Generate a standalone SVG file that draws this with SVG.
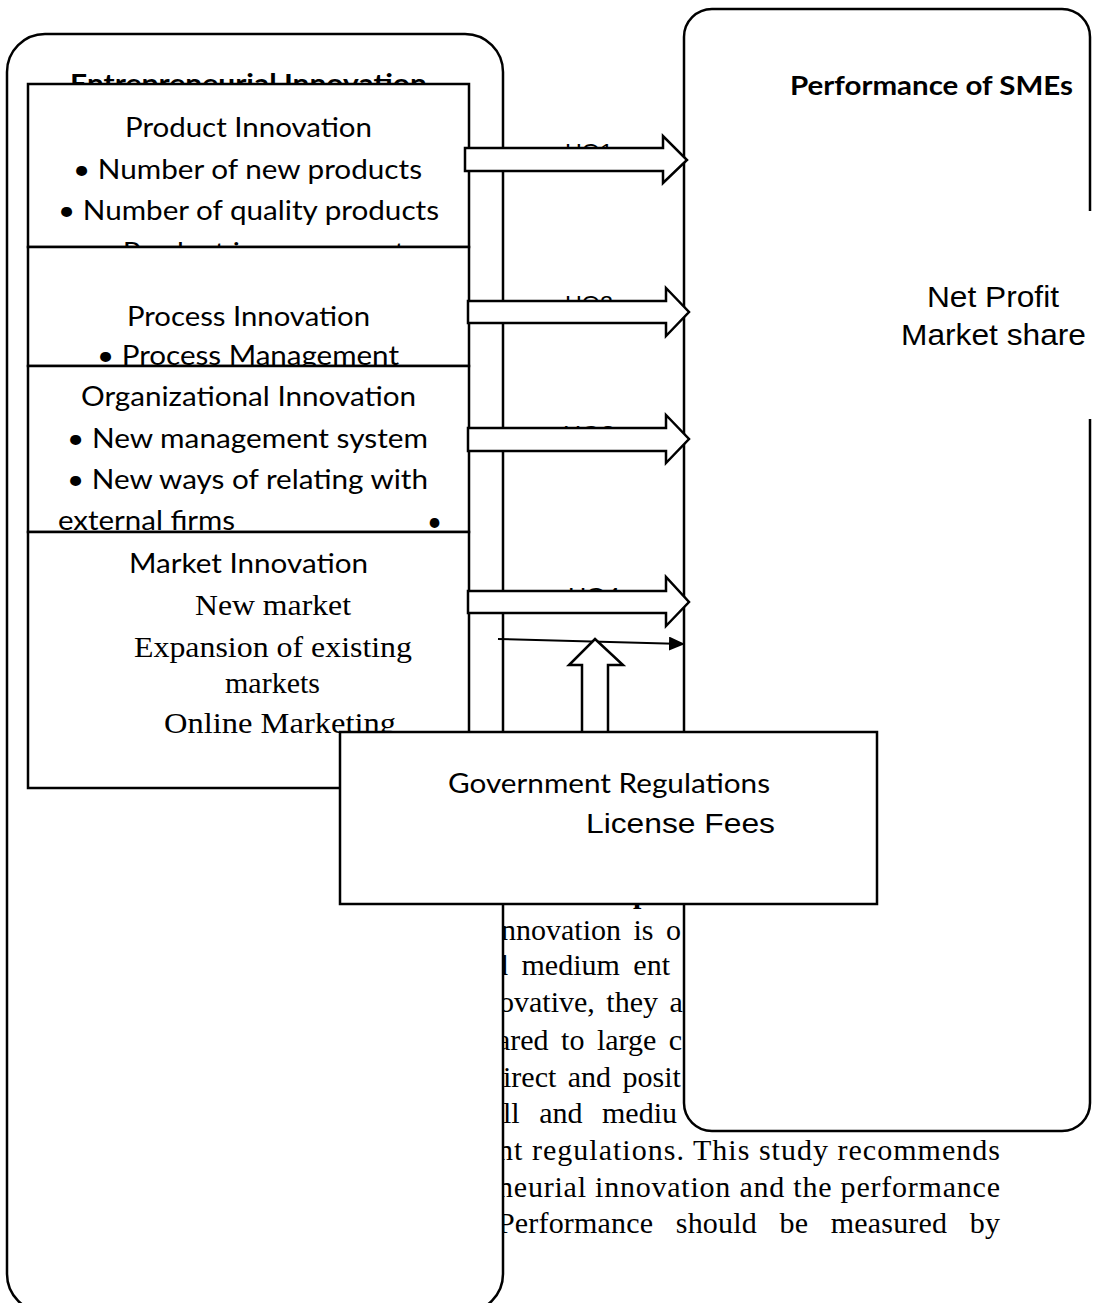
<svg xmlns="http://www.w3.org/2000/svg" width="1096" height="1303" viewBox="0 0 1096 1303">
<defs>
<style>
.box{fill:#fff;stroke:#000;stroke-width:2.5}
.blk{fill:#fff;stroke:#000;stroke-width:2.5;stroke-linejoin:miter}
.cal{font-family:Lato,'Open Sans','Liberation Sans',sans-serif;font-size:26px;fill:#000}
.b{font-weight:bold}
.tnr{font-family:'Liberation Serif','Times New Roman',serif;font-size:30px;fill:#000}
.ari{font-family:'Liberation Sans',Arial,sans-serif;fill:#000}
</style>
<marker id="tri" markerWidth="16" markerHeight="14" refX="15" refY="7" orient="auto" markerUnits="userSpaceOnUse">
<path d="M0,0 L16,7 L0,14 Z" fill="#000"/>
</marker>
</defs>
<rect width="1096" height="1303" fill="#fff"/>

<g id="body-text" class="tnr">
<text x="633" y="903" class="b">p</text>
<text x="501" y="940" word-spacing="5">nnovation is o</text>
<text x="493" y="975" word-spacing="6">d medium ent</text>
<text x="499" y="1012" word-spacing="4">ovative, they a</text>
<text x="497" y="1050" word-spacing="5">ared to large c</text>
<text x="503" y="1087" word-spacing="4">irect and posit</text>
<text x="503" y="1123" word-spacing="12">ll and mediu</text>
<text x="498" y="1160" textLength="502" lengthAdjust="spacing">nt regulations. This study recommends</text>
<text x="498" y="1197" textLength="502" lengthAdjust="spacing">neurial innovation and the performance</text>
<text x="498" y="1233" textLength="502" lengthAdjust="spacing" word-spacing="15">Performance should be measured by</text>
</g>

<g id="entrepreneurial-innovation">
<rect class="box" x="7" y="34" width="496" height="1278" rx="38" ry="38"/>
<text class="cal b" font-size="27" x="70" y="93" textLength="357" lengthAdjust="spacingAndGlyphs">Entrepreneurial Innovation</text>
</g>

<g id="performance-of-smes">
<path class="box" d="M1090,419 L1090,1103 A28,28 0 0 1 1062,1131 L712,1131 A28,28 0 0 1 684,1103 L684,37 A28,28 0 0 1 712,9 L1062,9 A28,28 0 0 1 1090,37 L1090,211"/>
<text class="cal b" font-size="27" x="790" y="95" textLength="283" lengthAdjust="spacingAndGlyphs">Performance of SMEs</text>
<text class="ari" font-size="29" x="927" y="307" textLength="132" lengthAdjust="spacingAndGlyphs">Net Profit</text>
<text class="ari" font-size="29" x="901" y="345" textLength="185" lengthAdjust="spacingAndGlyphs">Market share</text>
</g>

<g id="hypothesis-labels" class="ari" font-size="22">
<text x="565" y="159" textLength="48" lengthAdjust="spacingAndGlyphs">HO1</text>
<text x="565" y="311" textLength="48" lengthAdjust="spacingAndGlyphs">HO2</text>
<text x="563" y="441" textLength="52" lengthAdjust="spacingAndGlyphs">HO3</text>
<text x="568" y="603" textLength="52" lengthAdjust="spacingAndGlyphs">HO4</text>
</g>

<g id="product-innovation">
<rect class="box" x="28" y="84" width="441" height="163"/>
<text class="cal" x="125" y="137" textLength="247" lengthAdjust="spacingAndGlyphs">Product Innovation</text>
<text class="cal" x="73" y="179" textLength="349" lengthAdjust="spacingAndGlyphs">• Number of new products</text>
<text class="cal" x="58" y="220" textLength="381" lengthAdjust="spacingAndGlyphs">• Number of quality products</text>
<text class="cal" x="98" y="262" textLength="307" lengthAdjust="spacingAndGlyphs">• Product improvement</text>
</g>

<g id="process-innovation">
<rect class="box" x="28" y="247" width="441" height="119"/>
<text class="cal" x="127" y="326" textLength="243" lengthAdjust="spacingAndGlyphs">Process Innovation</text>
<text class="cal" x="97" y="365" textLength="302" lengthAdjust="spacingAndGlyphs">• Process Management</text>
</g>

<g id="organizational-innovation">
<rect class="box" x="28" y="366" width="441" height="166"/>
<text class="cal" x="81" y="406" textLength="335" lengthAdjust="spacingAndGlyphs">Organizational Innovation</text>
<text class="cal" x="67" y="448" textLength="361" lengthAdjust="spacingAndGlyphs">• New management system</text>
<text class="cal" x="67" y="489" textLength="361" lengthAdjust="spacingAndGlyphs">• New ways of relating with</text>
<text class="cal" x="58" y="530" textLength="177" lengthAdjust="spacingAndGlyphs">external firms</text>
<text class="cal" x="427" y="531">•</text>
</g>

<g id="market-innovation">
<rect class="box" x="28" y="532" width="441" height="256"/>
<text class="cal" x="129" y="573" textLength="239" lengthAdjust="spacingAndGlyphs">Market Innovation</text>
<text class="tnr" x="195" y="615" textLength="156" lengthAdjust="spacingAndGlyphs">New market</text>
<text class="tnr" x="134" y="657" textLength="278" lengthAdjust="spacingAndGlyphs">Expansion of existing</text>
<text class="tnr" x="225" y="693" textLength="95" lengthAdjust="spacingAndGlyphs">markets</text>
<text class="tnr" x="164" y="733" textLength="232" lengthAdjust="spacingAndGlyphs">Online Marketing</text>
</g>

<g id="connectors">
<polygon class="blk" points="465,148 663,148 663,136 687,160 663,183 663,171 465,171"/>
<polygon class="blk" points="468,301 666,301 666,288 689,312 666,336 666,323 468,323"/>
<polygon class="blk" points="468,428 666,428 666,415 689,439 666,463 666,451 468,451"/>
<polygon class="blk" points="468,591 666,591 666,577 689,602 666,626 666,613 468,613"/>
<line x1="498" y1="639" x2="684" y2="644" stroke="#000" stroke-width="2" marker-end="url(#tri)"/>
<polygon class="blk" points="595,639 623,665 608,665 608,740 582,740 582,665 569,665"/>
</g>

<g id="government-regulations">
<rect class="box" x="340" y="732" width="537" height="172"/>
<text class="cal" font-size="25" x="448" y="793" textLength="322" lengthAdjust="spacingAndGlyphs">Government Regulations</text>
<text class="ari" font-size="27" x="586" y="833" textLength="189" lengthAdjust="spacingAndGlyphs">License Fees</text>
</g>
</svg>
